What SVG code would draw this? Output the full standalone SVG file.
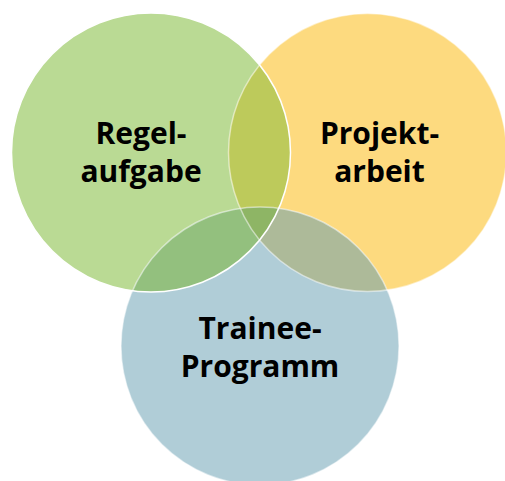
<svg xmlns="http://www.w3.org/2000/svg" width="505" height="481" viewBox="0 0 505 481">
<style>
.lbl{font-family:"Open Sans","Noto Sans","DejaVu Sans",sans-serif;font-weight:bold;font-size:30px;fill:#000;text-anchor:middle}
.edge{fill:none;stroke:#fff;stroke-width:1.5}
</style>
<defs>
<clipPath id="cG"><circle cx="151" cy="152.5" r="139.5"/></clipPath>
<clipPath id="cO"><circle cx="367.5" cy="152.5" r="139"/></clipPath>
<clipPath id="cB"><circle cx="260" cy="346" r="139"/></clipPath>
</defs>
<rect width="505" height="481" fill="#fff"/>
<g id="regelaufgabe">
<circle cx="151" cy="152.5" r="139.5" fill="#BADA94"/>
</g>
<g id="projektarbeit">
<circle cx="367.5" cy="152.5" r="139" fill="#FDDA7F"/>
</g>
<g id="trainee">
<circle cx="260" cy="346" r="139" fill="#B0CDD7"/>
</g>
<g id="overlaps">
<circle cx="367.5" cy="152.5" r="139" fill="#BDCA5B" clip-path="url(#cG)"/>
<circle cx="260" cy="346" r="139" fill="#93C07E" clip-path="url(#cG)"/>
<circle cx="260" cy="346" r="139" fill="#ADBA99" clip-path="url(#cO)"/>
<g clip-path="url(#cG)"><circle cx="260" cy="346" r="139" fill="#8EB565" clip-path="url(#cO)"/></g>
</g>
<g id="connectors">
<circle class="edge" cx="151" cy="152.5" r="139.5"/>
<circle class="edge" cx="367.5" cy="152.5" r="139" stroke-opacity="0.5"/>
<circle class="edge" cx="260" cy="346" r="139" stroke-opacity="0.5"/>
</g>
<g id="labels">
<text class="lbl" x="141" y="144">Regel-</text>
<text class="lbl" x="141" y="182">aufgabe</text>
<text class="lbl" x="379.5" y="144">Projekt-</text>
<text class="lbl" x="379.5" y="182">arbeit</text>
<text class="lbl" x="260" y="339">Trainee-</text>
<text class="lbl" x="260" y="377">Programm</text>
</g>
</svg>
